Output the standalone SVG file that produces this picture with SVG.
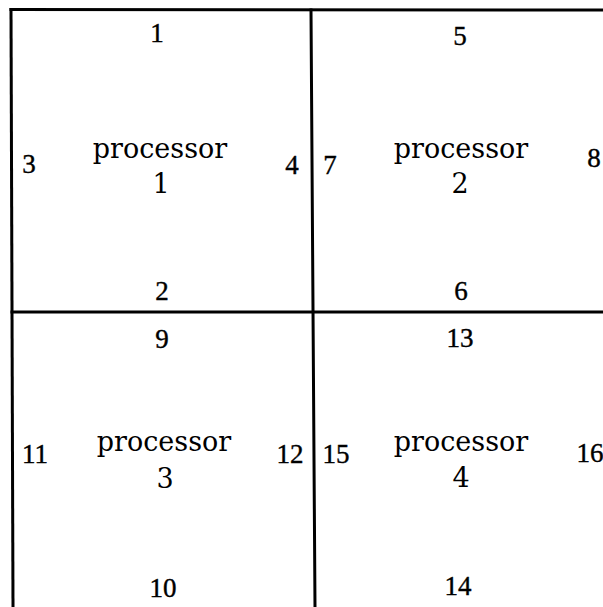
<svg xmlns="http://www.w3.org/2000/svg" width="603" height="607" viewBox="0 0 603 607">
<style>
.ln{stroke:#000;stroke-width:3;fill:none;stroke-linecap:square}
.p{font-family:"DejaVu Serif","Liberation Serif",serif;font-size:27px;fill:#000;text-anchor:middle}
.n{font-family:"Liberation Serif","DejaVu Serif",serif;font-size:27px;fill:#000;stroke:#000;stroke-width:0.4;text-anchor:middle}
</style>
<rect width="603" height="607" fill="#fff"/>
<g id="lines">
<line class="ln" x1="11" y1="9.5" x2="603" y2="10"/>
<line class="ln" x1="11" y1="9.5" x2="13" y2="607"/>
<line class="ln" x1="311" y1="10" x2="315" y2="607"/>
<line class="ln" x1="12" y1="312" x2="603" y2="312"/>
</g>
<g id="processor1">
<text class="p" x="160" y="158">processor</text>
<text class="p" x="161" y="193">1</text>
<text class="n" x="157" y="42">1</text>
<text class="n" x="162" y="300">2</text>
<text class="n" x="29" y="173">3</text>
<text class="n" x="292" y="174">4</text>
</g>
<g id="processor2">
<text class="p" x="461" y="158">processor</text>
<text class="p" x="460" y="193">2</text>
<text class="n" x="460" y="45">5</text>
<text class="n" x="461" y="300">6</text>
<text class="n" x="330" y="174">7</text>
<text class="n" x="594" y="167">8</text>
</g>
<g id="processor3">
<text class="p" x="164" y="451">processor</text>
<text class="p" x="165" y="488">3</text>
<text class="n" x="162" y="348">9</text>
<text class="n" x="163" y="597">10</text>
<text class="n" x="35" y="463">11</text>
<text class="n" x="290" y="463">12</text>
</g>
<g id="processor4">
<text class="p" x="461" y="451">processor</text>
<text class="p" x="461" y="487">4</text>
<text class="n" x="460" y="347">13</text>
<text class="n" x="458" y="595">14</text>
<text class="n" x="336" y="463">15</text>
<text class="n" x="590" y="462">16</text>
</g>
</svg>
